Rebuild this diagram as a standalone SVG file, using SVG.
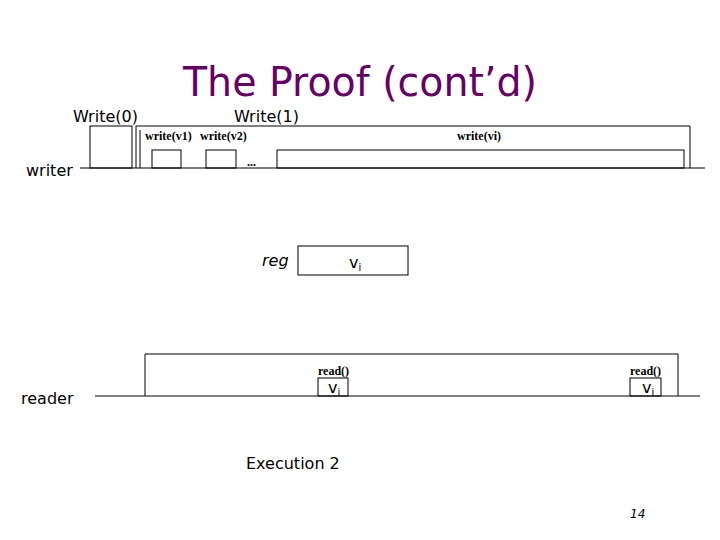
<svg xmlns="http://www.w3.org/2000/svg" width="720" height="540" viewBox="0 0 720 540">
<style>
.b{fill:none;stroke:#000;stroke-width:1}
.s{font-family:"DejaVu Sans",sans-serif;font-size:16px;fill:#000}
.t{font-family:"Liberation Serif",serif;font-size:12px;font-weight:bold;fill:#000}
</style>
<rect width="720" height="540" fill="#fff"/>
<text x="360" y="96" text-anchor="middle" font-family="DejaVu Sans, sans-serif" font-size="40" textLength="354" lengthAdjust="spacingAndGlyphs" fill="#660066">The Proof (cont’d)</text>
<g id="writer">
<text class="s" x="26" y="176">writer</text>
<line class="b" x1="80" y1="168" x2="705" y2="168"/>
</g>
<g id="write0"><text class="s" x="73" y="122">Write(0)</text><rect class="b" x="90" y="126" width="42" height="42"/></g>
<g id="write1"><text class="s" x="234" y="122">Write(1)</text>
<path class="b" d="M136 168V126H690V168M140 168V130"/>
</g>
<g id="w1"><text class="t" x="145" y="140">write(v1)</text><rect class="b" x="152" y="150" width="29" height="18"/></g>
<g id="w2"><text class="t" x="200" y="140">write(v2)</text><rect class="b" x="206" y="150" width="30" height="18"/></g>
<text class="t" x="247" y="166" font-size="14">...</text>
<g id="wi"><text class="t" x="457" y="140">write(vi)</text><rect class="b" x="277" y="150" width="407" height="18"/></g>
<g id="reg"><text class="s" x="262" y="266" font-style="italic">reg</text><rect class="b" x="298" y="246" width="110" height="29"/><text class="s" x="349" y="268">v<tspan font-size="10" dy="3">i</tspan></text></g>
<g id="reader">
<text class="s" x="21" y="404">reader</text>
<line class="b" x1="95" y1="396" x2="700" y2="396"/>
<path class="b" d="M145 396V354H678V396"/>
</g>
<g id="r1"><text class="t" x="318" y="375">read()</text><rect class="b" x="318" y="378" width="30" height="18"/><text class="s" x="328" y="393">v<tspan font-size="10" dy="3">i</tspan></text></g>
<g id="r2"><text class="t" x="630" y="375">read()</text><rect class="b" x="630" y="378" width="31" height="18"/><text class="s" x="642" y="393">v<tspan font-size="10" dy="3">i</tspan></text></g>
<text class="s" x="246" y="469">Execution 2</text>
<text x="630" y="518" font-family="DejaVu Sans, sans-serif" font-size="12" font-style="italic">14</text>
<g id="connectors"/>
</svg>
